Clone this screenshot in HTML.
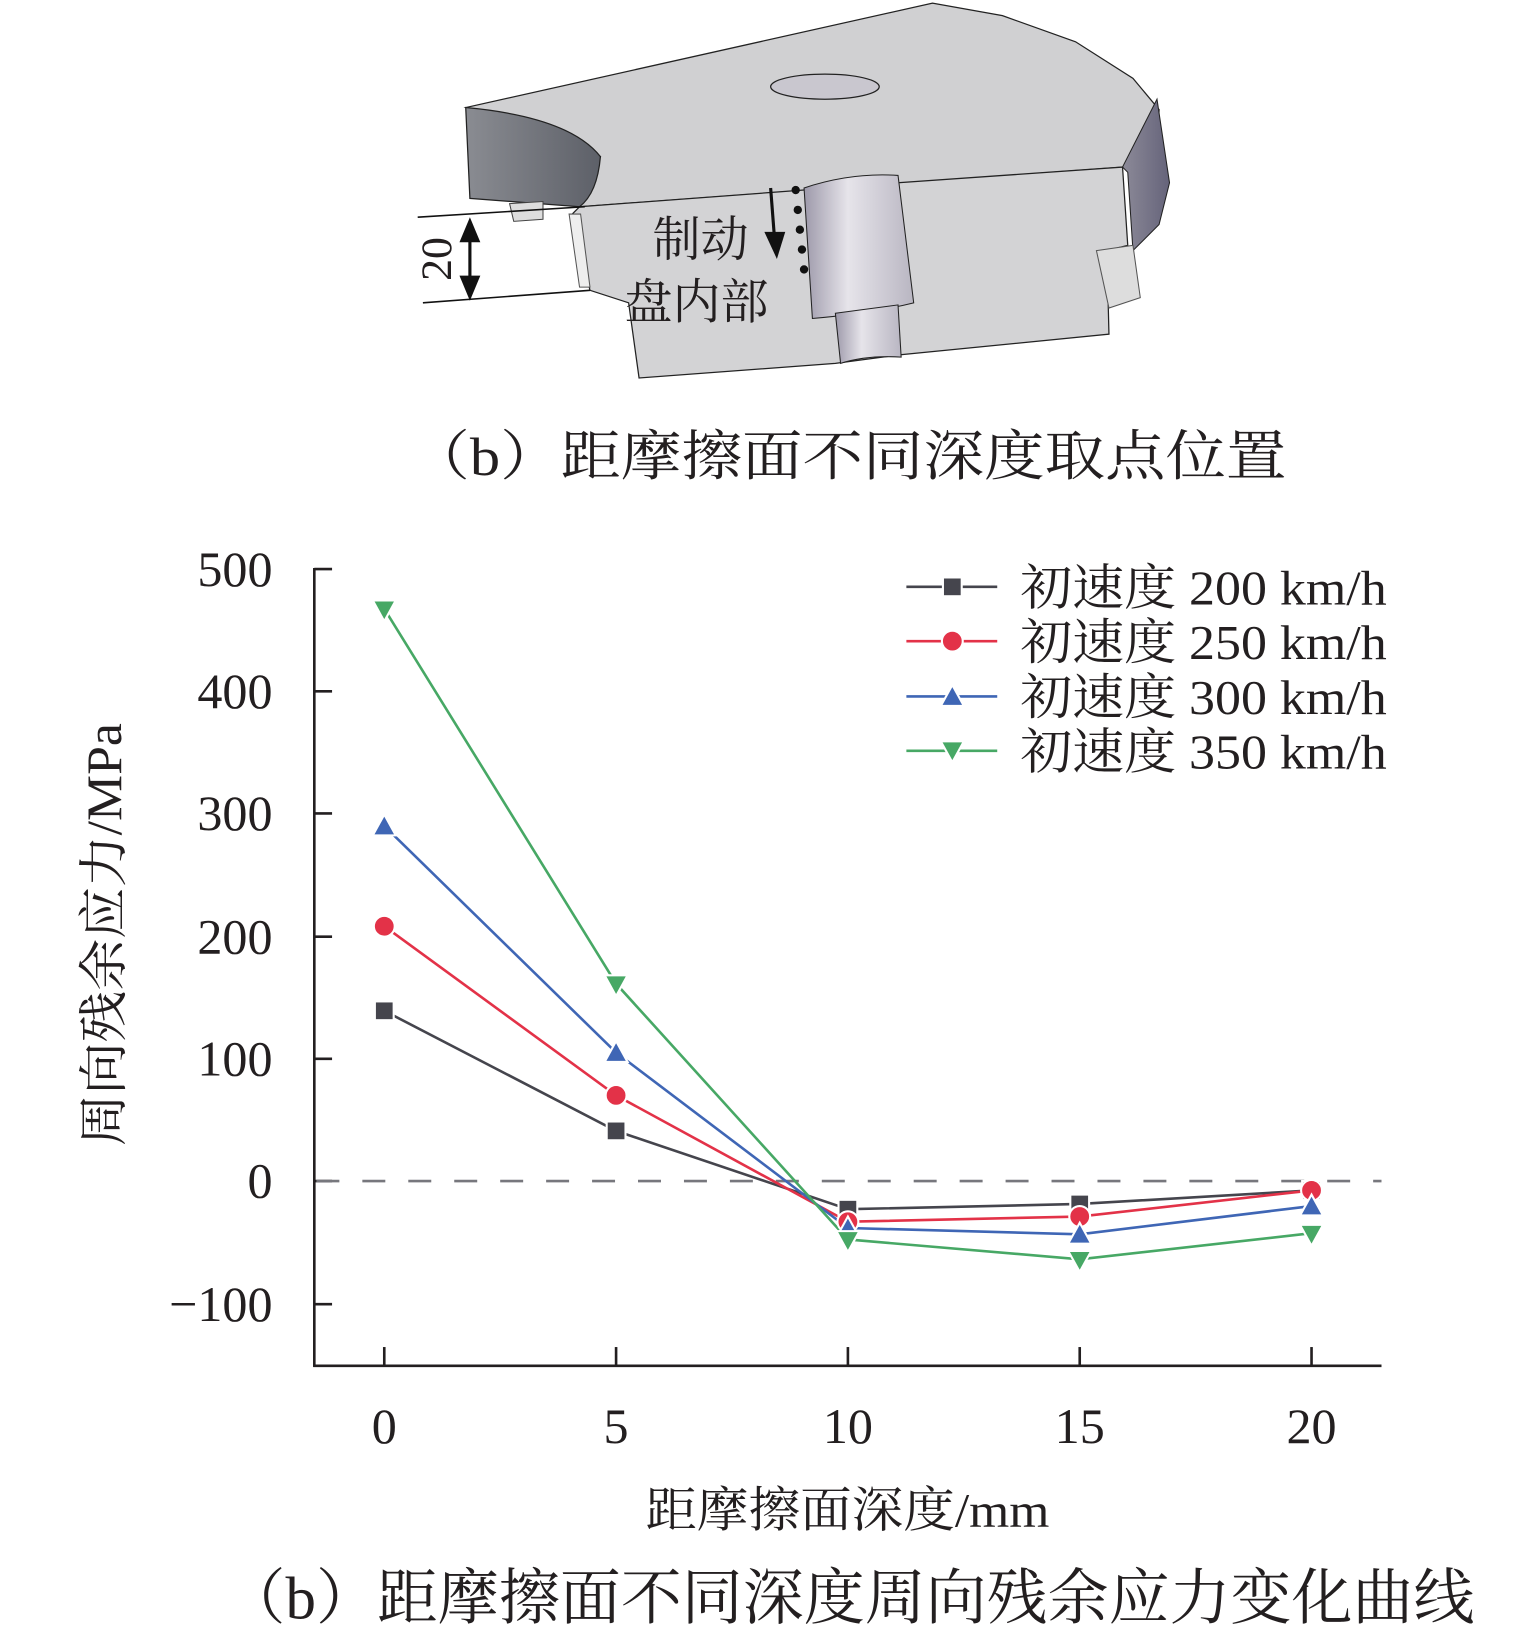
<!DOCTYPE html>
<html><head><meta charset="utf-8"><style>
html,body{margin:0;padding:0;background:#fff;}
svg{display:block;}
text{font-family:"Liberation Serif","Noto Serif CJK SC","Noto Sans CJK SC",serif;fill:#231f20;}
</style></head><body>
<svg width="1535" height="1639" viewBox="0 0 1470 1569.6" xmlns="http://www.w3.org/2000/svg">
<defs>
<linearGradient id="dk" x1="0" x2="1" y1="0" y2="0"><stop offset="0" stop-color="#8a8c92"/><stop offset="1" stop-color="#5d6068"/></linearGradient>
<linearGradient id="cy" x1="0" x2="1" y1="0" y2="0"><stop offset="0" stop-color="#9d99aa"/><stop offset="0.4" stop-color="#e6e4ea"/><stop offset="1" stop-color="#b9b6c2"/></linearGradient>
<linearGradient id="rt" x1="0" x2="1"><stop offset="0" stop-color="#8c8a98"/><stop offset="1" stop-color="#65637a"/></linearGradient>
</defs>
<polygon points="446,103 893,3 960,15 1030,40 1085,75 1110,105 1108,145 1075,160 555,198 575,150" fill="#d0d0d2" stroke="#222" stroke-width="1.2"/>
<path d="M446,103 Q545,112 575,150 Q572,185 555,198 L450,190 Z" fill="url(#dk)" stroke="#222" stroke-width="1.2"/>
<polygon points="1075,160 1108,95 1120,175 1110,215 1085,240 1080,165" fill="url(#rt)" stroke="#222" stroke-width="1"/>
<polygon points="488,195 520,193 520,210 492,212" fill="#ddd" stroke="#444" stroke-width="1"/>
<polygon points="555,198 770,182 860,175 1075,160 1080,235 1060,240 1062,320 860,340 800,348 612,362 602,290 565,278 548,205" fill="#d3d3d5" stroke="#222" stroke-width="1.2"/>
<polygon points="545,205 556,205 565,275 555,275" fill="#eee" stroke="#555" stroke-width="1"/>
<polygon points="1050,240 1085,235 1092,285 1062,295" fill="#ddd" stroke="#555" stroke-width="1"/>
<path d="M770,180 Q815,165 860,168 L875,290 Q835,300 778,305 Z" fill="url(#cy)" stroke="#222" stroke-width="1"/>
<path d="M800,300 L860,292 L863,342 Q830,340 805,348 Z" fill="url(#cy)" stroke="#222" stroke-width="1"/>
<ellipse cx="790" cy="83" rx="52" ry="12" fill="#c9c7cf" stroke="#222" stroke-width="1.2"/>
<line x1="400" y1="208" x2="560" y2="198" stroke="#111" stroke-width="1.5"/>
<line x1="405" y1="290" x2="565" y2="278" stroke="#111" stroke-width="1.5"/>
<line x1="450" y1="215" x2="450" y2="282" stroke="#111" stroke-width="3"/>
<polygon points="450,208 440,232 460,232" fill="#111"/><polygon points="450,288 440,264 460,264" fill="#111"/>
<text x="0" y="0" font-size="42" transform="translate(432,248) rotate(-90)" text-anchor="middle">20</text>
<line x1="738" y1="180" x2="742" y2="232" stroke="#111" stroke-width="3"/>
<polygon points="744,248 732,222 752,222" fill="#111"/>
<g fill="#111"><circle cx="762" cy="182" r="4"/><circle cx="764" cy="201" r="4"/><circle cx="766" cy="220" r="4"/><circle cx="768" cy="239" r="4"/><circle cx="770" cy="258" r="4"/></g>
<text x="625" y="245" font-size="46">制动</text>
<text x="598" y="305" font-size="46">盘内部</text>
<text x="392" y="455" font-size="52" textLength="840" lengthAdjust="spacingAndGlyphs">（b）距摩擦面不同深度取点位置</text>
<g stroke="#231f20" stroke-width="2.5" fill="none">
<line x1="301" y1="544" x2="301" y2="1309"/>
<line x1="300" y1="1308" x2="1323" y2="1308"/>
<line x1="301" y1="545" x2="318" y2="545"/><line x1="301" y1="662" x2="318" y2="662"/><line x1="301" y1="779" x2="318" y2="779"/><line x1="301" y1="897" x2="318" y2="897"/><line x1="301" y1="1014" x2="318" y2="1014"/><line x1="301" y1="1131" x2="318" y2="1131"/><line x1="301" y1="1249" x2="318" y2="1249"/>
<line x1="368" y1="1308" x2="368" y2="1290"/><line x1="590" y1="1308" x2="590" y2="1290"/><line x1="812" y1="1308" x2="812" y2="1290"/><line x1="1034" y1="1308" x2="1034" y2="1290"/><line x1="1256" y1="1308" x2="1256" y2="1290"/>
</g>
<line x1="303" y1="1131" x2="1323" y2="1131" stroke="#77777d" stroke-width="2.5" stroke-dasharray="22,22"/>
<g font-size="48" text-anchor="end">
<text x="261" y="561">500</text><text x="261" y="678">400</text><text x="261" y="795">300</text><text x="261" y="913">200</text><text x="261" y="1030">100</text><text x="261" y="1147">0</text><text x="261" y="1265">−100</text>
</g>
<g font-size="48" text-anchor="middle">
<text x="368" y="1382">0</text><text x="590" y="1382">5</text><text x="812" y="1382">10</text><text x="1034" y="1382">15</text><text x="1256" y="1382">20</text>
</g>
<text x="618" y="1462" font-size="46" textLength="387" lengthAdjust="spacingAndGlyphs">距摩擦面深度/mm</text>
<text x="0" y="0" font-size="48" text-anchor="middle" transform="translate(116,895) rotate(-90)" textLength="405" lengthAdjust="spacingAndGlyphs">周向残余应力/MPa</text>
<text x="215" y="1550" font-size="58" textLength="1197" lengthAdjust="spacingAndGlyphs">（b）距摩擦面不同深度周向残余应力变化曲线</text>
<g fill="none" stroke-width="2.5">
<polyline points="368,968 590,1083 812,1158 1034,1153 1256,1140" stroke="#45454d"/>
<polyline points="368,887 590,1049 812,1170 1034,1165 1256,1140" stroke="#e33248"/>
<polyline points="368,791 590,1008 812,1176 1034,1182 1256,1155" stroke="#3f66b5"/>
<polyline points="368,583 590,942 812,1187 1034,1206 1256,1181" stroke="#47a865"/>
</g>
<g stroke="#fff" stroke-width="2">
<g fill="#45454d"><rect x="359" y="959" width="18" height="18"/><rect x="581" y="1074" width="18" height="18"/><rect x="803" y="1149" width="18" height="18"/><rect x="1025" y="1144" width="18" height="18"/><rect x="1247" y="1131" width="18" height="18"/></g>
<g fill="#e33248"><circle cx="368" cy="887" r="10"/><circle cx="590" cy="1049" r="10"/><circle cx="812" cy="1170" r="10"/><circle cx="1034" cy="1165" r="10"/><circle cx="1256" cy="1140" r="10"/></g>
<g fill="#3f66b5"><polygon points="368,780 357,800 379,800"/><polygon points="590,997 579,1017 601,1017"/><polygon points="812,1165 801,1185 823,1185"/><polygon points="1034,1171 1023,1191 1045,1191"/><polygon points="1256,1144 1245,1164 1267,1164"/></g>
<g fill="#47a865"><polygon points="357,575 379,575 368,595"/><polygon points="579,934 601,934 590,954"/><polygon points="801,1179 823,1179 812,1199"/><polygon points="1023,1198 1045,1198 1034,1218"/><polygon points="1245,1173 1267,1173 1256,1193"/></g>
</g>
<g stroke-width="2.5">
<line x1="868" y1="562" x2="955" y2="562" stroke="#45454d"/>
<line x1="868" y1="614" x2="955" y2="614" stroke="#e33248"/>
<line x1="868" y1="667" x2="955" y2="667" stroke="#3f66b5"/>
<line x1="868" y1="719" x2="955" y2="719" stroke="#47a865"/>
</g>
<g stroke="#fff" stroke-width="2">
<rect x="903" y="553" width="18" height="18" fill="#45454d"/>
<circle cx="912" cy="614" r="10" fill="#e33248"/>
<polygon points="912,656 901,676 923,676" fill="#3f66b5"/>
<polygon points="901,710 923,710 912,730" fill="#47a865"/>
</g>
<g font-size="47">
<text x="977" y="579" textLength="351" lengthAdjust="spacingAndGlyphs">初速度 200 km/h</text>
<text x="977" y="631" textLength="351" lengthAdjust="spacingAndGlyphs">初速度 250 km/h</text>
<text x="977" y="684" textLength="351" lengthAdjust="spacingAndGlyphs">初速度 300 km/h</text>
<text x="977" y="736" textLength="351" lengthAdjust="spacingAndGlyphs">初速度 350 km/h</text>
</g>
</svg>
</body></html>
